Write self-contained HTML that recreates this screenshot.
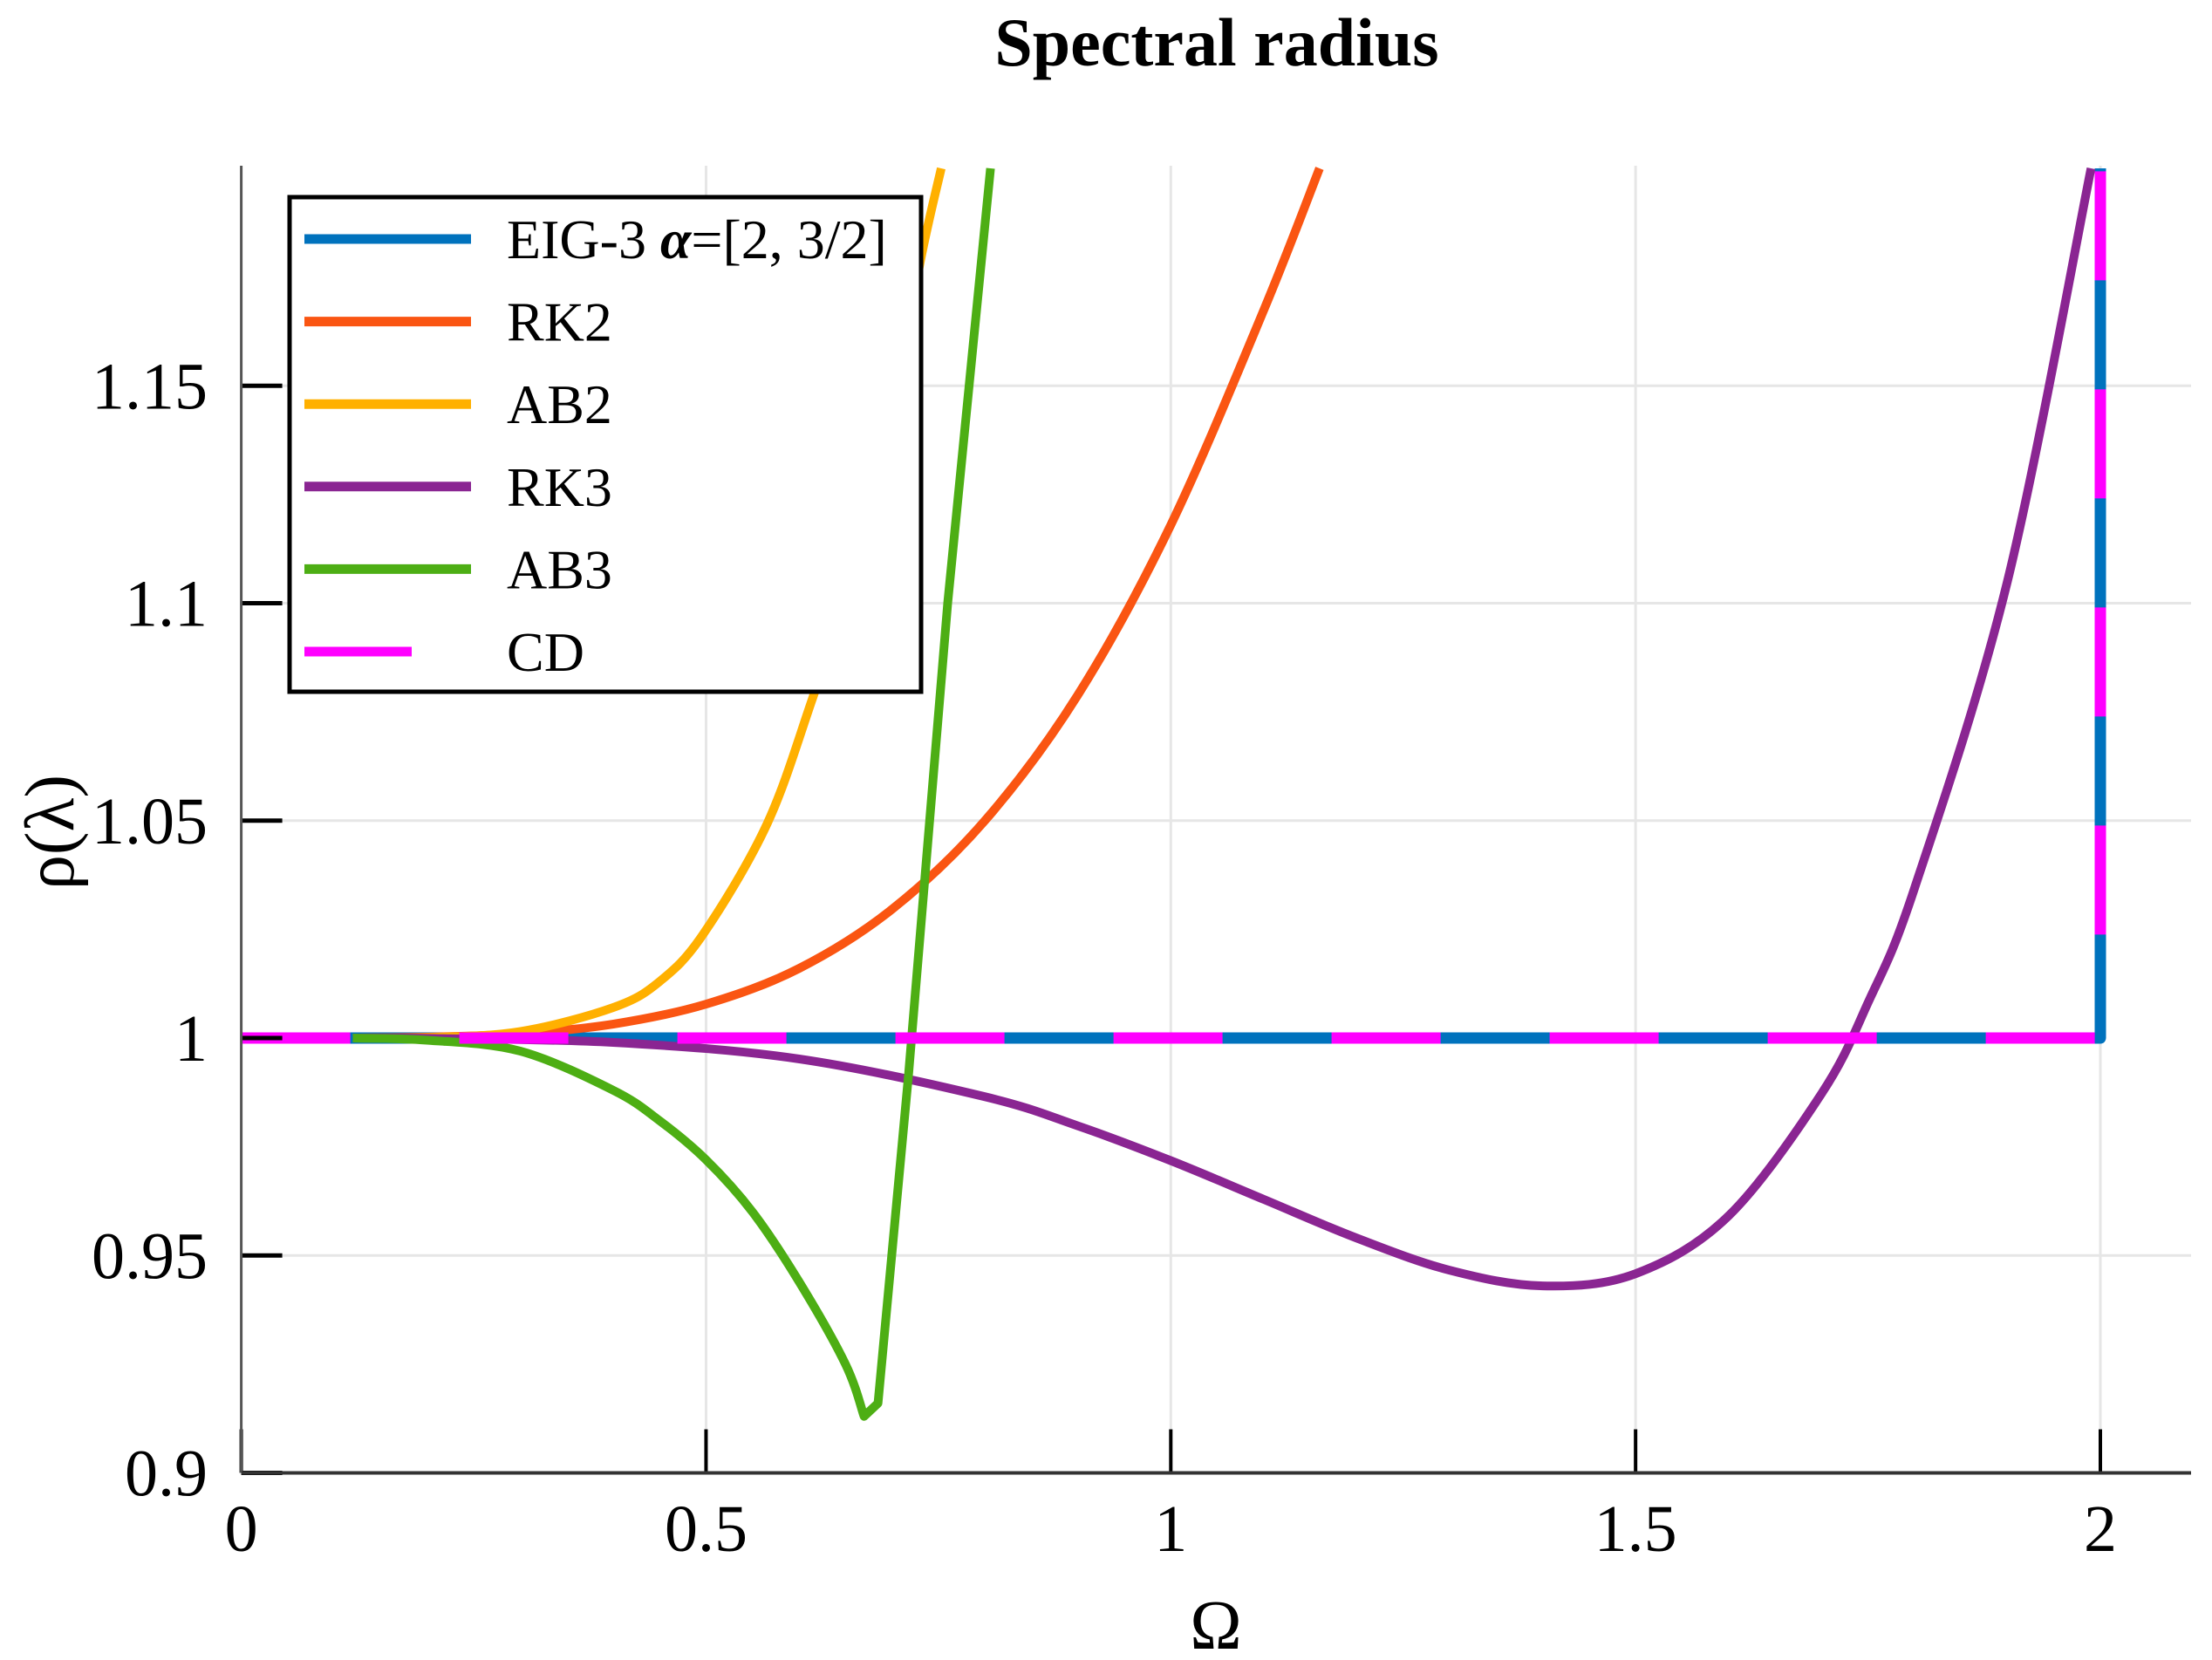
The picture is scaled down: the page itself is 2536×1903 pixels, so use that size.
<!DOCTYPE html>
<html><head><meta charset="utf-8"><style>
html,body{margin:0;padding:0;background:#fff;}
svg{display:block;font-family:"Liberation Serif",serif;}
</style></head><body>
<svg id="chart" width="2536" height="1903" viewBox="0 0 2536 1903" xmlns="http://www.w3.org/2000/svg">
<text x="1395" y="75" text-anchor="middle" font-size="78" font-weight="bold">Spectral radius</text>
<g id="grid"></g>
<g id="series"></g>
<g id="axes"></g>
<text x="1394" y="1890" text-anchor="middle" font-size="80">Ω</text>
<text transform="translate(84,954) rotate(-90)" text-anchor="middle" font-size="80">ρ(λ)</text>
<g>
<rect x="332" y="226" width="724" height="567" fill="#fff" stroke="#000" stroke-width="5"/>
<g id="legend-entries"></g>
</g>
</svg>
<script>
const xTicks=[0,0.5,1,1.5,2];
const xTickLabels=["0","0.5","1","1.5","2"];
const yTicks=[0.9,0.95,1,1.05,1.1,1.15];
const yTickLabels=["0.9","0.95","1","1.05","1.1","1.15"];
const rk2X=[0.12,0.2,0.3,0.4,0.5,0.6,0.7,0.8,0.9,1.0,1.1,1.16];
const rk2Y=[1.0,1.0002,1.001,1.0032,1.0078,1.016,1.0296,1.05,1.0789,1.118,1.1674,1.2];
const ab2X=[0.12,0.2,0.3,0.4,0.45,0.497,0.566,0.616,0.663,0.698,0.73,0.753];
const ab2Y=[1.0,1.0001,1.0015,1.007,1.013,1.0239,1.0494,1.079,1.1085,1.1395,1.178,1.2];
const rk3X=[0.12,0.2,0.4,0.6,0.8,0.9,1.0,1.1,1.2,1.3,1.4,1.5,1.6,1.7,1.75,1.8,1.9,1.99];
const rk3Y=[1.0,0.99993,0.99899,0.9952,0.9865,0.9798,0.9718,0.9629,0.954,0.9466,0.943,0.9458,0.9591,0.9872,1.0081,1.0344,1.105,1.2];
const ab3X=[0.12,0.2,0.3,0.4,0.45,0.5,0.55,0.6,0.65,0.67,0.685,0.718,0.76,0.806];
const ab3Y=[1.0,0.9995,0.997,0.988,0.981,0.972,0.96,0.944,0.925,0.913,0.916,0.992,1.1,1.2];
const eigX=[0,2,2];
const eigY=[1,1,1.2];
const cdX=[0,2,2];
const cdY=[1,1,1.2];
const legendNames=["EIG-3 α=[2, 3/2]","RK2","AB2","RK3","AB3","CD"];

const X0=276.6,X1=2512,Y0=1688.5,Ytop=190;
const sx=v=>X0+(v-0)*(2408-276.6)/2;
const sy=v=>Y0-(v-0.9)*(1190-1688.5)/(-0.1);
const NS="http://www.w3.org/2000/svg";
function mk(tag,attrs,parent){const e=document.createElementNS(NS,tag);for(const k in attrs)e.setAttribute(k,attrs[k]);parent.appendChild(e);return e;}
const grid=document.getElementById('grid'),axes=document.getElementById('axes'),series=document.getElementById('series');
xTicks.forEach((t,i)=>{
 if(t>0){const g=mk('line',{x1:sx(t),x2:sx(t),y1:Ytop,y2:Y0,stroke:'#e6e6e6','stroke-width':3},grid);
 
 }
 const tk=mk('line',{x1:sx(t),x2:sx(t),y1:Y0,y2:Y0-50,stroke:'#000','stroke-width':4},axes);
 
 
 const lb=mk('text',{x:sx(t),y:1778,'text-anchor':'middle','font-size':76},axes);
 lb.textContent=xTickLabels[i];
 
 
});
yTicks.forEach((t,i)=>{
 if(t>0.9&&t!==1){const g=mk('line',{x1:X0,x2:X1,y1:sy(t),y2:sy(t),stroke:'#e6e6e6','stroke-width':3},grid);
 
 }
 const tk=mk('line',{x1:X0,x2:X0+47,y1:sy(t),y2:sy(t),stroke:'#000','stroke-width':5},axes);
 
 
 const lb=mk('text',{x:238,y:sy(t)+26,'text-anchor':'end','font-size':76},axes);
 lb.textContent=yTickLabels[i];
 
 
});
const la=mk('line',{x1:X0,x2:X0,y1:Ytop,y2:Y0,stroke:'#555','stroke-width':3},axes);


const ba=mk('line',{x1:X0,x2:X1,y1:Y0,y2:Y0,stroke:'#333','stroke-width':4},axes);


function path(xs,ys){return xs.map((x,i)=>(i?'L':'M')+sx(x).toFixed(1)+' '+sy(ys[i]).toFixed(1)).join(' ');}
function pathSmooth(xs,ys){const p=xs.map((x,i)=>[sx(x),sy(ys[i])]);let d='M'+p[0][0]+' '+p[0][1];
 for(let i=0;i<p.length-1;i++){const p0=p[i-1]||p[i],p1=p[i],p2=p[i+1],p3=p[i+2]||p2;
 d+=' C'+(p1[0]+(p2[0]-p0[0])/6)+' '+(p1[1]+(p2[1]-p0[1])/6)+' '+(p2[0]-(p3[0]-p1[0])/6)+' '+(p2[1]-(p3[1]-p1[1])/6)+' '+p2[0]+' '+p2[1];}
 return d;}
function ab3Path(){let m=0;ab3Y.forEach((v,i)=>{if(v<ab3Y[m])m=i;});
 let d=pathSmooth(ab3X.slice(0,m+1),ab3Y.slice(0,m+1));
 for(let i=m+1;i<ab3X.length;i++)d+=' L'+sx(ab3X[i]).toFixed(1)+' '+sy(ab3Y[i]).toFixed(1);
 return d;}
const defs=[
 {n:'eig3-line',d:path(eigX,eigY),c:'#0072BD',w:13},
 {n:'rk2-line',d:pathSmooth(rk2X,rk2Y),c:'#FA5512',w:10},
 {n:'ab2-line',d:pathSmooth(ab2X,ab2Y),c:'#FFB000',w:10},
 {n:'rk3-line',d:pathSmooth(rk3X,rk3Y),c:'#8A2592',w:10},
 {n:'ab3-line',d:ab3Path(),c:'#4DAE14',w:10},
 {n:'cd-line',d:path(cdX,cdY),c:'#FF00FF',w:13,dash:'125 125'}
];
const lc=['#0072BD','#FA5512','#FFB000','#8A2592','#4DAE14','#FF00FF'];
defs.forEach(s=>{const a={d:s.d,fill:'none',stroke:s.c,'stroke-width':s.w,'stroke-linejoin':'round'};if(s.dash)a['stroke-dasharray']=s.dash;
 const e=mk('path',a,series);
 
 });
const le=document.getElementById('legend-entries');
legendNames.forEach((nm,i)=>{const y=274+i*94.6;
 const l=mk('line',{x1:349,x2:i===5?472:540,y1:y,y2:y,stroke:lc[i],'stroke-width':11},le);
 
 
 const t=mk('text',{x:581,y:y+22,'font-size':64},le);
 if(i===0){t.innerHTML='EIG-3 <tspan font-weight="bold" font-style="italic">α</tspan>=[2, 3/2]';}else t.textContent=nm;
 
 });
</script>
</body></html>
